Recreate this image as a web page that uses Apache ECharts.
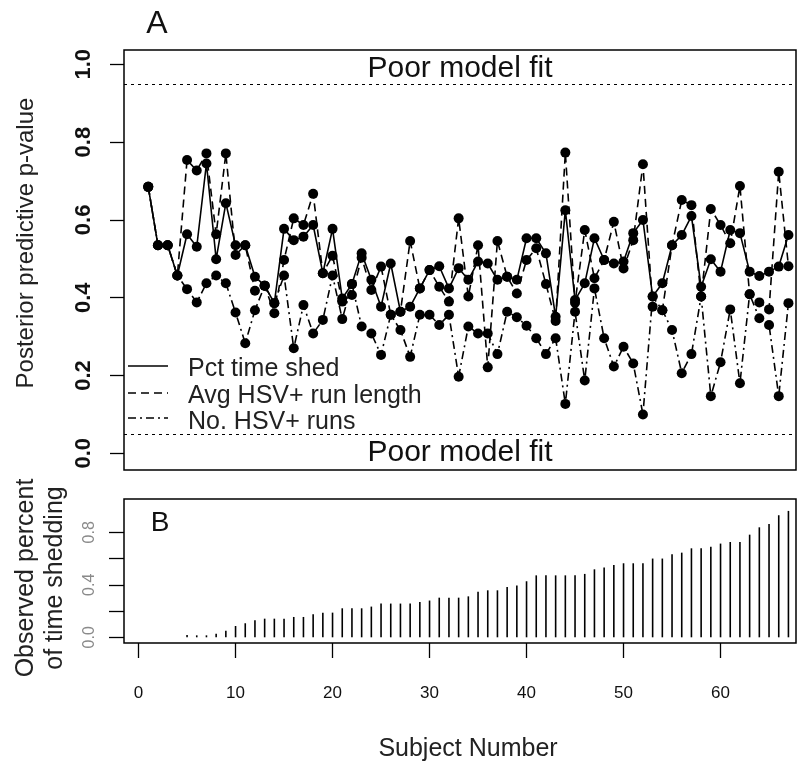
<!DOCTYPE html>
<html>
<head>
<meta charset="utf-8">
<script src="https://cdn.jsdelivr.net/npm/echarts@6/dist/echarts.min.js"></script>
<style>
html,body{margin:0;padding:0;background:#fff;}
#chart{width:804px;height:767px;}
</style>
</head>
<body>
<div id="chart"></div>
<script>
// ---------- data ----------
const subjects = [1,2,3,4,5,6,7,8,9,10,11,12,13,14,15,16,17,18,19,20,21,22,23,24,25,26,27,28,29,30,31,32,33,34,35,36,37,38,39,40,41,42,43,44,45,46,47,48,49,50,51,52,53,54,55,56,57,58,59,60,61,62,63,64,65,66,67];

const pctTimeShed = [0.685,0.535,0.535,0.457,0.563,0.531,0.745,0.499,0.643,0.535,
  0.535,0.454,0.431,0.386,0.577,0.548,0.557,0.587,0.463,0.577,
  0.398,0.435,0.514,0.446,0.377,0.488,0.364,0.377,0.424,0.471,
  0.481,0.424,0.476,0.446,0.493,0.488,0.446,0.454,0.446,0.553,
  0.553,0.514,0.351,0.625,0.394,0.437,0.553,0.497,0.488,0.493,
  0.566,0.600,0.403,0.437,0.535,0.561,0.610,0.428,0.499,0.467,
  0.574,0.566,0.467,0.456,0.467,0.480,0.561];

const avgRunLength = [0.685,0.535,0.535,0.457,0.754,0.727,0.771,0.563,0.771,0.510,
  0.535,0.418,0.431,0.360,0.497,0.604,0.587,0.667,0.463,0.508,
  0.390,0.407,0.503,0.420,0.480,0.356,0.364,0.546,0.424,0.471,
  0.428,0.390,0.604,0.403,0.535,0.221,0.546,0.454,0.411,0.497,
  0.527,0.435,0.340,0.773,0.387,0.574,0.450,0.497,0.595,0.475,
  0.548,0.743,0.377,0.368,0.535,0.651,0.638,0.403,0.628,0.587,
  0.540,0.687,0.409,0.388,0.370,0.724,0.481];

const numRuns = [0.685,0.535,0.535,0.457,0.422,0.388,0.437,0.457,0.437,0.362,
  0.283,0.368,0.431,0.386,0.457,0.270,0.381,0.308,0.343,0.457,
  0.345,0.435,0.326,0.308,0.253,0.356,0.317,0.248,0.356,0.356,
  0.330,0.356,0.197,0.326,0.308,0.308,0.255,0.364,0.350,0.328,
  0.296,0.255,0.296,0.127,0.364,0.187,0.424,0.296,0.223,0.274,
  0.231,0.100,0.403,0.368,0.317,0.206,0.255,0.403,0.147,0.234,
  0.370,0.180,0.409,0.347,0.330,0.147,0.386];

const observedPct = [0,0,0,0,0.018,0.015,0.015,0.028,0.050,0.086,
  0.107,0.130,0.142,0.142,0.142,0.155,0.155,0.175,0.188,0.188,
  0.221,0.221,0.221,0.234,0.257,0.257,0.257,0.257,0.269,0.280,
  0.302,0.302,0.302,0.312,0.348,0.358,0.358,0.383,0.394,0.427,
  0.472,0.472,0.472,0.472,0.472,0.483,0.518,0.531,0.551,0.564,
  0.564,0.564,0.600,0.600,0.632,0.645,0.678,0.678,0.690,0.714,
  0.726,0.726,0.782,0.838,0.864,0.930,0.963];

const fitBounds = [0.05, 0.95];
const fitLabel = 'Poor model fit';
const seriesNames = ['Pct time shed', 'Avg HSV+ run length', 'No. HSV+ runs'];
const yTicksA = [0, 0.2, 0.4, 0.6, 0.8, 1.0];
const yTicksB = [0, 0.2, 0.4, 0.6, 0.8];
const yLabelsB = [0, 0.4, 0.8];
const xTicksB = [0, 10, 20, 30, 40, 50, 60];

// ---------- chart ----------
const FONT = '"Liberation Sans", Arial, Helvetica, sans-serif';
const pairs = arr => subjects.map((s, i) => [s, arr[i]]);
const chart = echarts.init(document.getElementById('chart'), null, {renderer: 'canvas'});

const lineBase = {
  type: 'line', xAxisIndex: 0, yAxisIndex: 0,
  symbol: 'circle', symbolSize: 10, showAllSymbol: true,
  itemStyle: {color: '#000'}, animation: false, z: 3
};
const dashDot = [8, 4, 2, 4];

const option = {
  animation: false,
  backgroundColor: '#fff',
  grid: [
    {left: 124, top: 50, width: 672, height: 420, show: true, borderColor: '#000', borderWidth: 1.5, backgroundColor: 'transparent'},
    {left: 124, top: 499, width: 672, height: 144, show: true, borderColor: '#000', borderWidth: 1.5, backgroundColor: 'transparent'}
  ],
  xAxis: [
    {type: 'value', gridIndex: 0, min: -1.5, max: 67.78, show: false, axisLine: {onZero: false}},
    {type: 'value', gridIndex: 1, min: -1.5, max: 67.78, position: 'bottom',
      splitLine: {show: false}, axisLine: {show: false, onZero: false},
      axisTick: {show: true, customValues: xTicksB, length: 15, lineStyle: {color: '#000', width: 1.3}},
      axisLabel: {customValues: xTicksB, margin: 42, fontSize: 17, color: '#111', fontFamily: FONT}
    }
  ],
  yAxis: [
    {type: 'value', gridIndex: 0, min: -0.0429, max: 1.0368, position: 'left',
      splitLine: {show: false}, axisLine: {show: false, onZero: false},
      axisTick: {show: true, customValues: yTicksA, length: 14, lineStyle: {color: '#000', width: 1.3}},
      axisLabel: {customValues: yTicksA, rotate: 90, margin: 29, fontSize: 22, fontWeight: 'bold', color: '#111', fontFamily: FONT,
        formatter: v => Number(v).toFixed(1)}
    },
    {type: 'value', gridIndex: 1, min: -0.0434, max: 1.0537, position: 'left',
      splitLine: {show: false}, axisLine: {show: false, onZero: false},
      axisTick: {show: true, customValues: yTicksB, length: 15, lineStyle: {color: '#000', width: 1.3}},
      axisLabel: {customValues: yLabelsB, rotate: 90, margin: 26, fontSize: 16, color: '#8a8a8a', fontFamily: FONT,
        formatter: v => Number(v).toFixed(1)}
    }
  ],
  series: [
    Object.assign({}, lineBase, {
      name: seriesNames[0], data: pairs(pctTimeShed),
      lineStyle: {color: '#000', width: 1.6, type: 'solid'},
      markLine: {
        silent: true, symbol: 'none', animation: false,
        lineStyle: {color: '#000', width: 1.2, type: [3, 4]},
        data: [
          {yAxis: fitBounds[1], label: {show: true, position: 'insideMiddleTop', distance: 0, formatter: fitLabel, fontSize: 30, color: '#111', fontFamily: FONT}},
          {yAxis: fitBounds[0], label: {show: true, position: 'insideMiddleBottom', distance: 4, formatter: fitLabel, fontSize: 30, color: '#111', fontFamily: FONT}}
        ]
      }
    }),
    Object.assign({}, lineBase, {
      name: seriesNames[1], data: pairs(avgRunLength),
      lineStyle: {color: '#000', width: 1.6, type: [8, 5]}
    }),
    Object.assign({}, lineBase, {
      name: seriesNames[2], data: pairs(numRuns),
      lineStyle: {color: '#000', width: 1.6, type: dashDot}
    }),
    {
      type: 'bar', xAxisIndex: 1, yAxisIndex: 1, name: 'Observed',
      data: pairs(observedPct), barWidth: 1.6,
      itemStyle: {color: '#000'}, animation: false
    }
  ],
  graphic: [
    {type: 'text', x: 157, y: 24, style: {text: 'A', font: '32px ' + FONT, fill: '#111', align: 'center', verticalAlign: 'middle'}},
    {type: 'text', x: 160, y: 523, style: {text: 'B', font: '28px ' + FONT, fill: '#111', align: 'center', verticalAlign: 'middle'}},
    {type: 'text', x: 26, y: 243, rotation: Math.PI / 2, style: {text: 'Posterior predictive p-value', font: '24px ' + FONT, fill: '#222', align: 'center', verticalAlign: 'middle'}},
    {type: 'text', x: 41, y: 578, rotation: Math.PI / 2, style: {text: 'Observed percent\nof time shedding', font: '25px ' + FONT, lineHeight: 29, fill: '#222', align: 'center', verticalAlign: 'middle'}},
    {type: 'text', x: 468, y: 749, style: {text: 'Subject Number', font: '25px ' + FONT, fill: '#222', align: 'center', verticalAlign: 'middle'}},
    // legend
    {type: 'line', shape: {x1: 128, y1: 366, x2: 168, y2: 366}, style: {stroke: '#000', lineWidth: 1.5}},
    {type: 'line', shape: {x1: 128, y1: 393, x2: 168, y2: 393}, style: {stroke: '#000', lineWidth: 1.5, lineDash: [8, 5]}},
    {type: 'line', shape: {x1: 128, y1: 418, x2: 168, y2: 418}, style: {stroke: '#000', lineWidth: 1.5, lineDash: dashDot}},
    {type: 'text', x: 188, y: 369, style: {text: seriesNames[0], font: '25px ' + FONT, fill: '#222', align: 'left', verticalAlign: 'middle'}},
    {type: 'text', x: 188, y: 396, style: {text: seriesNames[1], font: '25px ' + FONT, fill: '#222', align: 'left', verticalAlign: 'middle'}},
    {type: 'text', x: 188, y: 422, style: {text: seriesNames[2], font: '25px ' + FONT, fill: '#222', align: 'left', verticalAlign: 'middle'}}
  ]
};
chart.setOption(option);
</script>
</body>
</html>
